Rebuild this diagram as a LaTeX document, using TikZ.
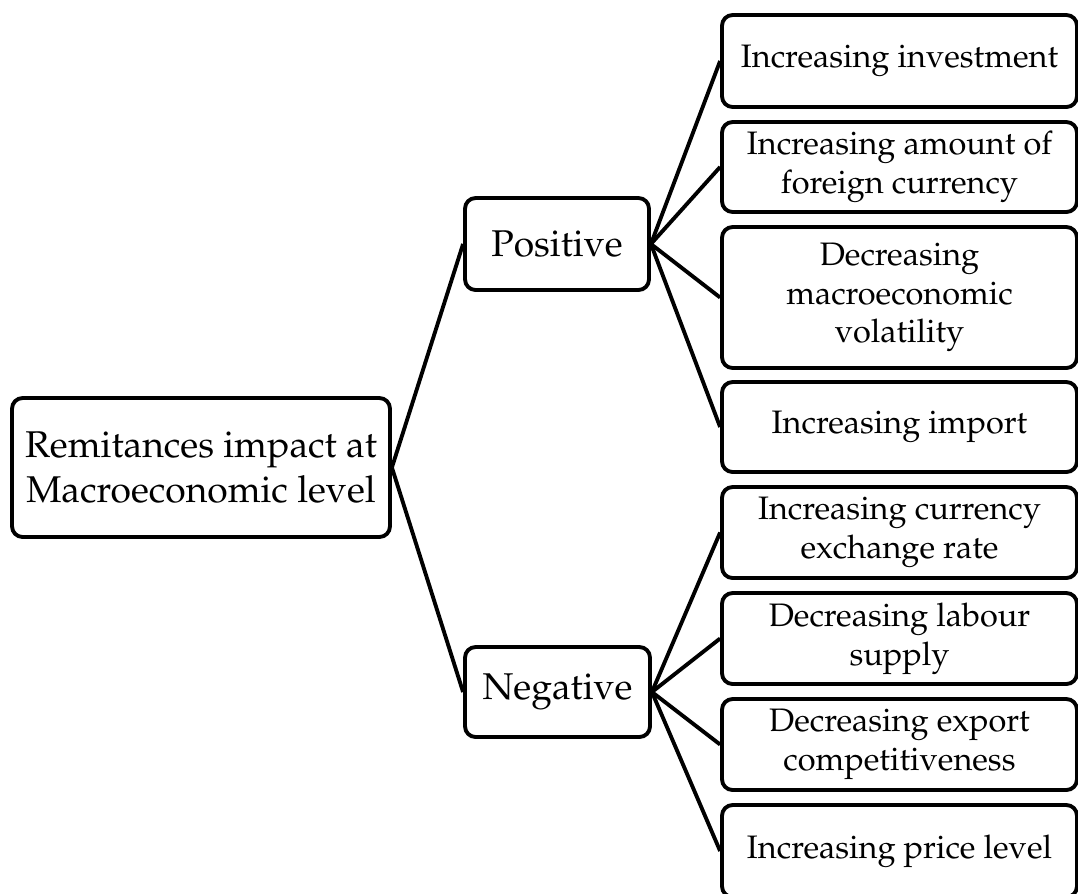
\documentclass[tikz,border=0pt]{standalone}
\usepackage[T1]{fontenc}
\usepackage{mathpazo}
\usepackage{tikz}
\tikzset{bx/.style={draw=black,line width=2.2pt,rounded corners=6pt,fill=white,align=center,inner sep=2pt,font=\fontsize{18.5}{22}\selectfont}}
\tikzset{big/.style={bx,font=\fontsize{21.2}{26}\selectfont}}
\tikzset{ln/.style={black,line width=2.2pt}}

\begin{document}
\begin{tikzpicture}[x=0.02cm,y=-0.02cm]
\useasboundingbox (0,0) rectangle (1078,893);
\node[big,minimum width=7.56cm,minimum height=2.78cm] (rt) at (201,467.5) {Remitances impact at\\Macroeconomic level};
\node[big,minimum width=3.68cm,minimum height=1.84cm] (ps) at (557,244) {Positive};
\node[big,minimum width=3.7cm,minimum height=1.8cm] (ng) at (557.5,692) {Negative};
\node[bx,minimum width=7.1cm,minimum height=1.84cm] (p1) at (899.5,61) {Increasing investment};
\node[bx,minimum width=7.1cm,minimum height=1.8cm] (p2) at (899.5,167) {Increasing amount of\\foreign currency};
\node[bx,minimum width=7.1cm,minimum height=2.82cm] (p3) at (899.5,297.5) {Decreasing\\macroeconomic\\volatility};
\node[bx,minimum width=7.1cm,minimum height=1.8cm] (p4) at (899.5,427) {Increasing import};
\node[bx,minimum width=7.1cm,minimum height=1.82cm] (n1) at (899.5,532.5) {Increasing currency\\exchange rate};
\node[bx,minimum width=7.1cm,minimum height=1.82cm] (n2) at (899.5,638.5) {Decreasing labour\\supply};
\node[bx,minimum width=7.1cm,minimum height=1.82cm] (n3) at (899.5,744.5) {Decreasing export\\competitiveness};
\node[bx,minimum width=7.1cm,minimum height=1.84cm] (n4) at (899.5,851) {Increasing price level};
\draw[ln] (rt.east)--(ps.west);
\draw[ln] (rt.east)--(ng.west);
\draw[ln] (ps.east)--(p1.west);
\draw[ln] (ps.east)--(p2.west);
\draw[ln] (ps.east)--(p3.west);
\draw[ln] (ps.east)--(p4.west);
\draw[ln] (ng.east)--(n1.west);
\draw[ln] (ng.east)--(n2.west);
\draw[ln] (ng.east)--(n3.west);
\draw[ln] (ng.east)--(n4.west);
\end{tikzpicture}
\end{document}
